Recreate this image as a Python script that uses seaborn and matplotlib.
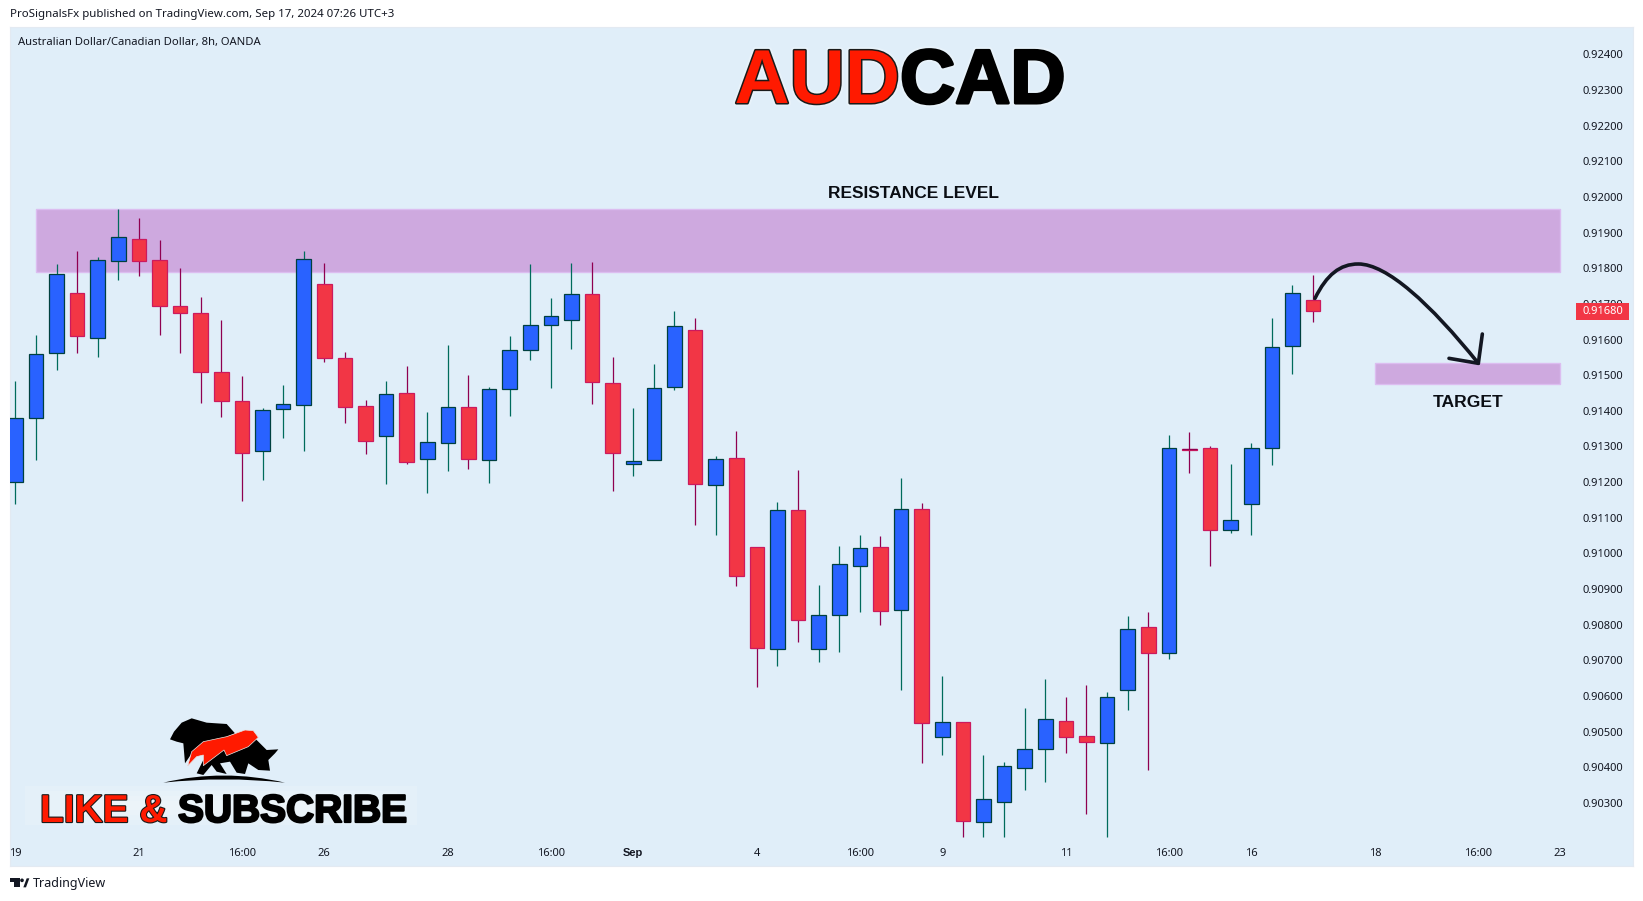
import matplotlib
matplotlib.use("Agg")
import matplotlib.pyplot as plt
import matplotlib.patheffects as pe
from matplotlib.patches import PathPatch, Rectangle
from matplotlib.path import Path
from matplotlib.transforms import Affine2D
import numpy as np
import pandas as pd
import seaborn as sns

highs = [0.91484,0.91613,0.91812,0.91849,0.91832,0.91967,0.91941,0.91880,0.91801,0.91720,0.91655,0.91498,0.91408,0.91473,0.91849,0.91815,0.91566,0.91431,0.91484,0.91526,
         0.91397,0.91584,0.91500,0.91467,0.91610,0.91812,0.91716,0.91814,0.91817,0.91551,0.91408,0.91531,0.91680,0.91660,0.91273,0.91343,0.91017,0.91144,0.91234,
         0.90911,0.91021,0.91052,0.91049,0.91212,0.91141,0.90656,0.90526,0.90434,0.90415,0.90566,0.90648,0.90597,0.90631,0.90611,0.90824,0.90836,
         0.91332,0.91340,0.91301,0.91251,0.91310,0.91660,0.91753,0.91781]
tops = [0.91380,0.91559,0.91783,0.91730,0.91823,0.91887,0.91882,0.91823,0.91694,0.91674,0.91509,0.91427,0.91402,0.91419,0.91825,0.91755,0.91548,0.91413,0.91447,0.91450,
        0.91314,0.91410,0.91412,0.91460,0.91572,0.91642,0.91665,0.91727,0.91727,0.91477,0.91258,0.91463,0.91637,0.91626,0.91264,0.91267,0.91017,0.91121,0.91121,
        0.90826,0.90969,0.91014,0.91017,0.91124,0.91124,0.90526,0.90526,0.90310,0.90403,0.90450,0.90535,0.90529,0.90487,0.90596,0.90787,0.90793,
        0.91295,0.91292,0.91295,0.91093,0.91295,0.91578,0.91732,0.91710]
bottoms = [0.91200,0.91380,0.91562,0.91610,0.91604,0.91820,0.91820,0.91694,0.91674,0.91509,0.91427,0.91281,0.91287,0.91405,0.91416,0.91548,0.91410,0.91315,0.91329,0.91256,
           0.91264,0.91309,0.91264,0.91261,0.91460,0.91572,0.91642,0.91656,0.91480,0.91283,0.91252,0.91261,0.91466,0.91194,0.91191,0.90938,0.90734,0.90731,0.90812,
           0.90731,0.90826,0.90966,0.90838,0.90840,0.90523,0.90484,0.90248,0.90246,0.90302,0.90397,0.90450,0.90484,0.90470,0.90467,0.90616,0.90722,
           0.90720,0.91291,0.91065,0.91065,0.91138,0.91295,0.91581,0.91679]
lows = [0.91140,0.91261,0.91515,0.91561,0.91552,0.91768,0.91777,0.91614,0.91561,0.91421,0.91384,0.91146,0.91205,0.91325,0.91286,0.91538,0.91367,0.91280,0.91196,0.91252,
        0.91170,0.91232,0.91238,0.91198,0.91386,0.91543,0.91465,0.91574,0.91420,0.91176,0.91218,0.91261,0.91459,0.91081,0.91053,0.90909,0.90626,0.90685,0.90752,
        0.90696,0.90724,0.90837,0.90800,0.90618,0.90413,0.90435,0.90203,0.90203,0.90203,0.90337,0.90360,0.90441,0.90270,0.90203,0.90562,0.90391,
        0.90705,0.91226,0.90966,0.91058,0.91053,0.91249,0.91504,0.91650]
direction = list("UUUDUUDDDDDDUUUDDDUDUUDUUUUUDDUUUDUDDUDUUUDUDUDUUUUDDUUDUDDUUUUD")

price_ticks = [0.903,0.904,0.905,0.906,0.907,0.908,0.909,0.910,0.911,0.912,0.913,0.914,0.915,0.916,0.917,0.918,0.919,0.920,0.921,0.922,0.923,0.924]
time_ticks = [0,6,11,15,21,26,30,36,41,45,51,56,60,66,71,75]
time_labels = ["19","21","16:00","26","28","16:00","Sep","4","16:00","9","11","16:00","16","18","16:00","23"]
resistance_zone = (0.91789, 0.91965)
target_zone = (0.91475, 0.91533)
last_price = 0.91680

W, H = 1643, 901
BG = "#e0eef9"
UI_FONT = ["Noto Sans", "DejaVu Sans"]
heavy = ["Liberation Sans", "DejaVu Sans"]

sns.set_theme(style="white")
plt.rcParams["font.family"] = UI_FONT

fig = plt.figure(figsize=(W/100, H/100), dpi=100, facecolor="white")
ax = fig.add_axes([10/W, 1-866/H, 1623/W, 839/H])
ax.set_facecolor(BG)

df = pd.DataFrame({"idx": np.arange(len(highs)), "high": highs, "low": lows,
                   "top": tops, "bottom": bottoms, "dir": direction})
df["span"] = df["top"] - df["bottom"]

styles = {"U": ("#2962ff", "#00403f", "#006b5c"), "D": ("#f23645", "#cc1a5e", "#8f0050")}
for key, (fill, edge, wick) in styles.items():
    sub = df[df["dir"] == key]
    ax.vlines(sub["idx"], sub["low"], sub["high"], color=wick, lw=0.9, zorder=3)
    sns.barplot(data=sub, x="idx", y="span", bottom=sub["bottom"].values, native_scale=True,
                orient="x", color=fill, saturation=1, width=0.7, edgecolor=edge, linewidth=0.9,
                errorbar=None, ax=ax, zorder=4)

# doji cross bar wider than its body
ax.hlines(df.loc[57, "top"], 57-0.36, 57+0.36, color="#8f0050", lw=0.9, zorder=5)

ax.set_xlabel(""); ax.set_ylabel("")
px_per_bar = 20.6
ax.set_xlim((10-15.3)/px_per_bar, (1633-15.3)/px_per_bar)
ax.set_ylim(0.90123, 0.92477)

for (lo, hi), x0 in ((resistance_zone, 1.0), (target_zone, 66.0)):
    ax.add_patch(Rectangle((x0, lo), 75.0-x0, hi-lo, fc="#cea9df", ec="#dcbdf0", lw=1, zorder=2))

ax.yaxis.tick_right()
ax.set_yticks(price_ticks, [f"{t:.5f}" for t in price_ticks], ha="right")
ax.set_xticks(time_ticks, time_labels)
ax.tick_params(axis="y", length=0, pad=-7.2, labelsize=8, labelcolor="#131722")
ax.tick_params(axis="x", length=0, pad=-12.6, labelsize=8, labelcolor="#131722")
for lab, t in zip(ax.get_xticklabels(), time_labels):
    if t == "Sep":
        lab.set_fontweight("bold")
        lab.set_fontfamily(heavy)
for s in ax.spines.values():
    s.set_color("#e3eaf2"); s.set_linewidth(0.8)

# last price tag
ax.add_patch(Rectangle(((1576-10)/1623, last_price-0.00024), 53/1623, 0.00048, transform=ax.get_yaxis_transform(),
                       fc="#f23645", ec="none", zorder=19))
ax.text(1.0-10/1623, last_price, f"{last_price:.5f}", transform=ax.get_yaxis_transform(),
        ha="right", va="center", color="white", fontsize=8, zorder=20)

def T(x, y, s, **kw):
    return fig.text(x/W, 1-y/H, s, **kw)

# header and footer
T(10, 14.5, "ProSignalsFx published on TradingView.com, Sep 17, 2024 07:26 UTC+3", fontsize=8.25, va="center", color="#131722")
T(18, 42, "Australian Dollar/Canadian Dollar, 8h, OANDA", fontsize=8.1, va="center", color="#131722")
T(33, 884, "TradingView", fontsize=9, va="center", color="#131722")

# annotations
T(914, 193, "RESISTANCE LEVEL", fontsize=12.5, fontweight="bold", family=heavy, ha="center", va="center", color="#0b0e14")
T(1468, 402, "TARGET", fontsize=12.6, fontweight="bold", family=heavy, ha="center", va="center", color="#0b0e14")

T(900, 103, "AUD", fontsize=55, fontweight="bold", family=heavy, ha="right", va="baseline", color="#ff1a00",
  path_effects=[pe.withStroke(linewidth=5, foreground="#ffffff", alpha=0.25), pe.withStroke(linewidth=2.2, foreground="#1a1a1a")])
T(900, 103, "CAD", fontsize=55, fontweight="bold", family=heavy, ha="left", va="baseline", color="black",
  path_effects=[pe.withStroke(linewidth=5, foreground="#ffffff", alpha=0.25), pe.withStroke(linewidth=2.2, foreground="black")])

# hand-drawn arrow and logos, placed in picture pixels of the reference
def crop_tf(x0, y0):
    return Affine2D().scale(1/3, -1/3).translate(x0, H-y0)

tf4 = crop_tf(1130, 240)
M, C4, L4 = Path.MOVETO, Path.CURVE4, Path.LINETO
arc = Path([(555,175),(590,104),(630,72),(685,72),(770,72),(900,190),(1045,370)], [M,C4,C4,C4,C4,C4,C4])
head = Path([(957,355),(1045,370),(1057,282)], [M,L4,L4])
for p in (arc, head):
    fig.add_artist(PathPatch(p, fc="none", ec="#131722", lw=2.6, capstyle="round", joinstyle="round", transform=tf4, zorder=6))

tf5 = crop_tf(0, 700)
def poly(pts, color, lw=0, ec=None, z=5):
    fig.add_artist(PathPatch(Path(pts + [pts[0]], closed=True), fc=color, ec=ec or color, lw=lw, transform=tf5, zorder=z))

for inset in (0, 30, 60, 90):
    fig.add_artist(Rectangle((75+inset*2, 258+inset/2), 1175-inset*4, 118-inset, fc="white", ec="none", alpha=0.14, transform=tf5, zorder=4))
poly([(510,118),(522,95),(545,68),(575,55),(620,68),(680,72),(705,100),(640,130),(600,140),(572,165),(555,190),(550,130),(530,125)], "black")
poly([(590,220),(610,180),(690,130),(760,110),(800,150),(835,148),(825,160),(805,180),(810,212),(775,210),(745,190),(735,222),(710,218),(690,185),(660,190),(680,222),(650,215),(635,195),(610,225)], "black")
poly([(563,198),(575,155),(610,125),(680,110),(735,90),(760,92),(775,112),(745,140),(680,167),(672,150),(610,197),(610,165),(590,170)], "#ff1a00", lw=0.5, ec="#e6e6e6", z=6)
fig.add_artist(PathPatch(Path([(490,248),(670,205),(855,248),(670,228),(490,248)],
                              [Path.MOVETO, Path.CURVE3, Path.CURVE3, Path.CURVE3, Path.CURVE3]),
                         fc="black", ec="none", transform=tf5, zorder=5))
T(40, 822, "LIKE &", fontsize=28, fontweight="bold", family=heavy, va="baseline", color="#ff1a00",
  path_effects=[pe.withStroke(linewidth=1.6, foreground="#1a1a1a")], zorder=6)
T(178, 822, "SUBSCRIBE", fontsize=28, fontweight="bold", family=heavy, va="baseline", color="black",
  path_effects=[pe.withStroke(linewidth=1.6, foreground="black")], zorder=6)

# TradingView mark
poly([(30,535),(60,535),(60,562),(43,562),(43,546),(30,546)], "#131722")
poly([(70,562),(80,535),(88,535),(78,562)], "#131722")
fig.add_artist(plt.Circle((66,541), 5.5, fc="#131722", ec="none", transform=tf5, zorder=5))

fig.savefig("out.png", dpi=100, facecolor="white")
